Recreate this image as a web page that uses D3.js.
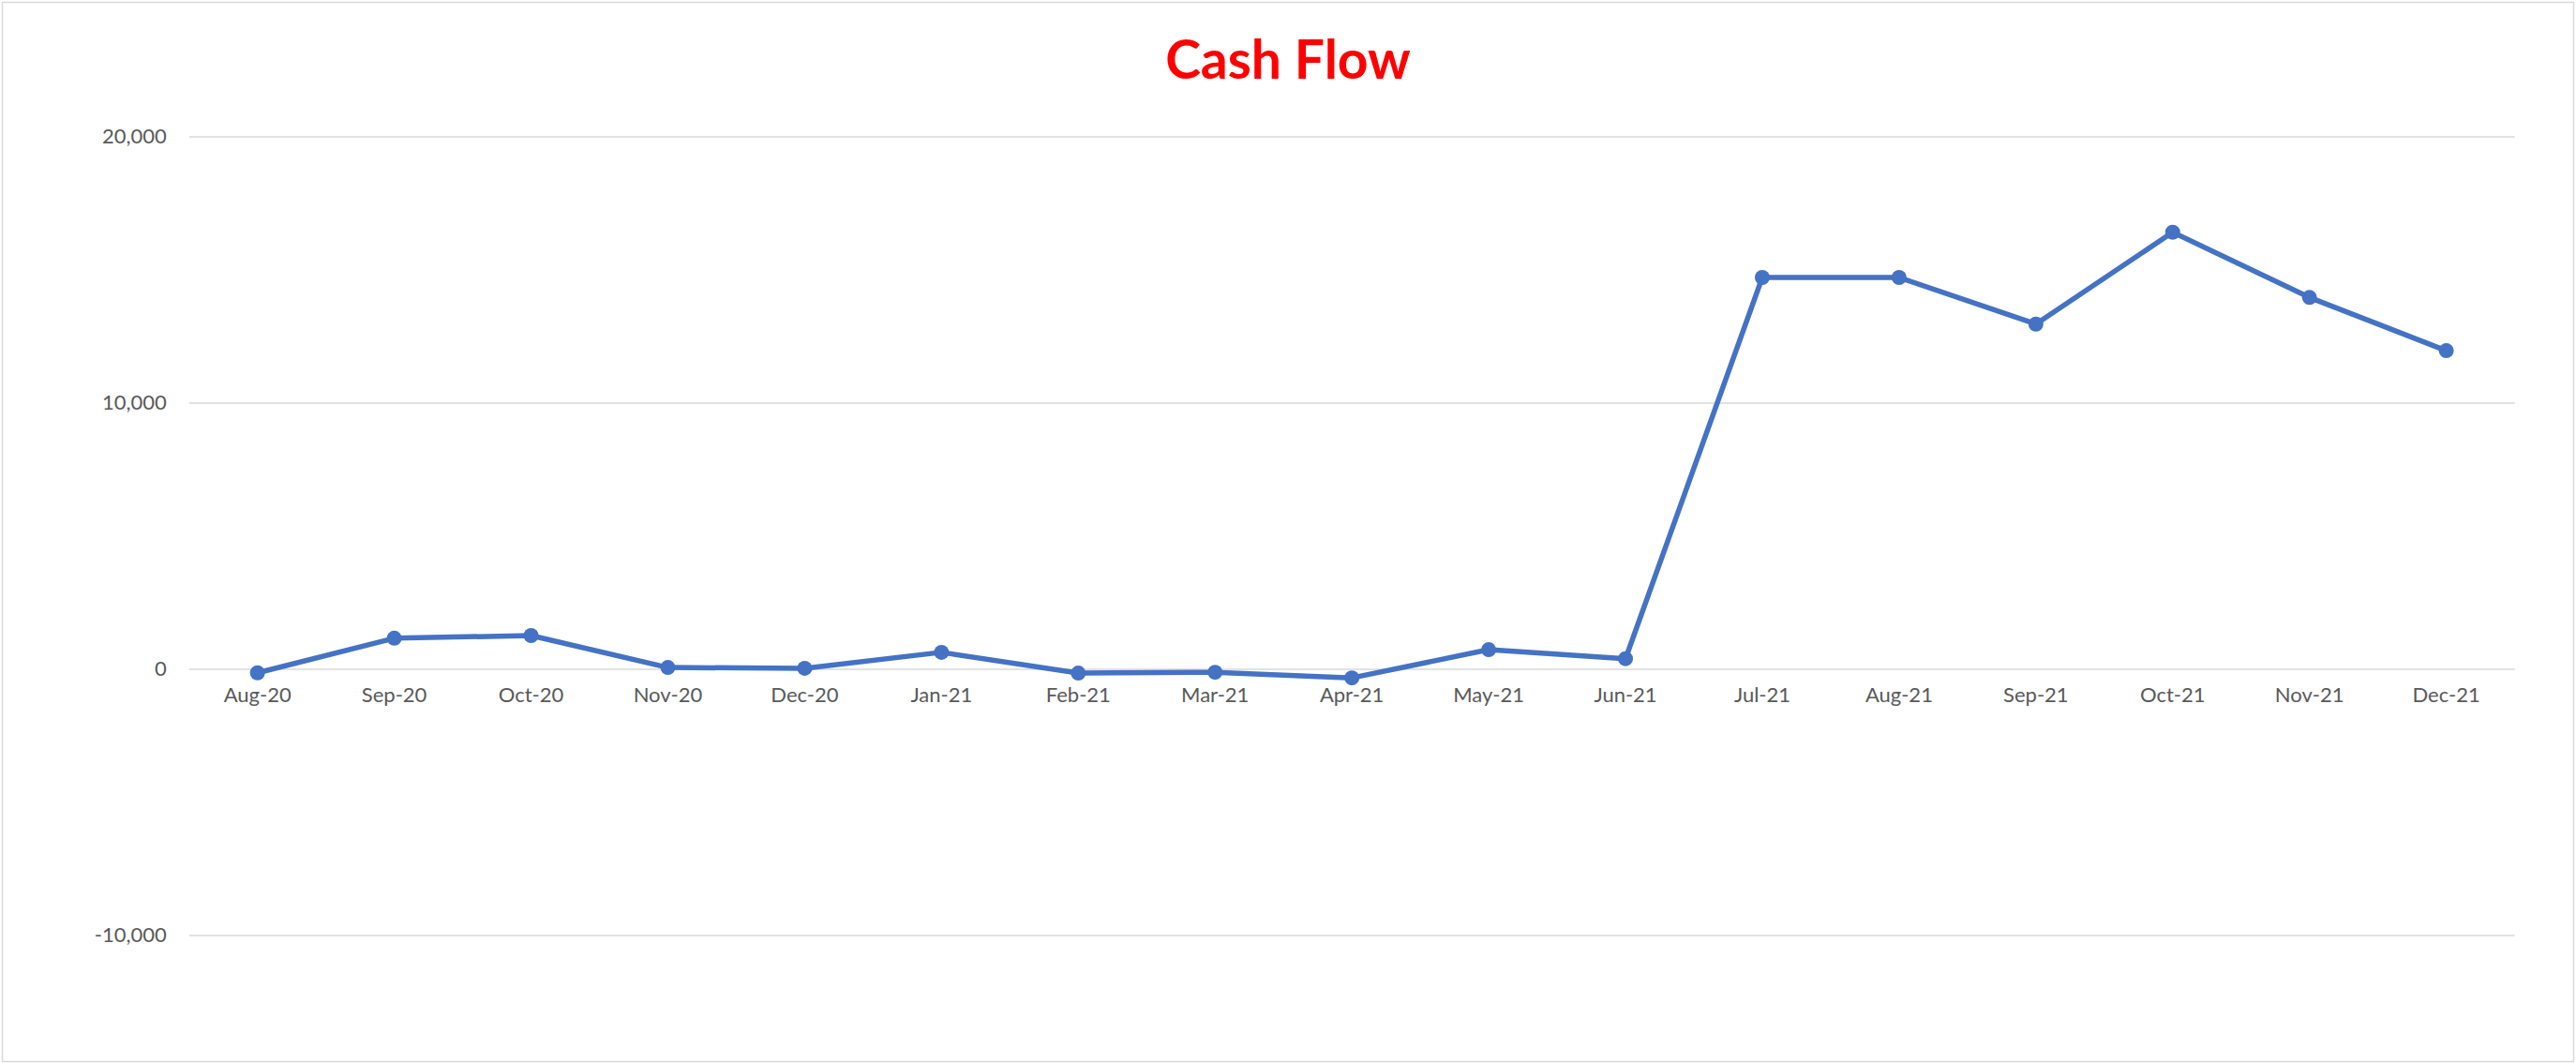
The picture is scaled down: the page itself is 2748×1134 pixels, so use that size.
<!DOCTYPE html>
<html>
<head>
<meta charset="utf-8">
<script src="https://cdn.jsdelivr.net/npm/d3@7"></script>
<style>
  html, body { margin: 0; padding: 0; background: #fff; }
  svg { display: block; }
</style>
</head>
<body>
<script>
// ---- Data ----
const categories = ["Aug-20","Sep-20","Oct-20","Nov-20","Dec-20","Jan-21","Feb-21","Mar-21","Apr-21","May-21","Jun-21","Jul-21","Aug-21","Sep-21","Oct-21","Nov-21","Dec-21"];
const cashFlow = [-150, 1150, 1250, 50, 20, 620, -160, -130, -340, 720, 380, 14700, 14700, 12950, 16400, 13950, 11950];
const yTicks = [-10000, 0, 10000, 20000];
const titleText = "Cash Flow";

// ---- Layout ----
const W = 2748, H = 1134;
const plotLeft = 201.7, plotRight = 2682.6;
const yTop = 145.5, yBottom = 997.5;

const svg = d3.select("body").append("svg")
  .attr("width", W).attr("height", H);

// chart border
svg.append("rect")
  .attr("x", 2.5).attr("y", 2.5)
  .attr("width", W - 5).attr("height", H - 4)
  .attr("fill", "#fff")
  .attr("stroke", "#d9d9d9").attr("stroke-width", 1.5);

const x = d3.scaleBand().domain(categories).range([plotLeft, plotRight]).padding(0);
const y = d3.scaleLinear().domain([-10000, 20000]).range([yBottom, yTop]);

const fmt = d3.formatLocale({decimal: ".", thousands: ",", grouping: [3], currency: ["", ""], minus: "-"}).format(",");

// gridlines + y labels
const yAxis = d3.axisLeft(y).tickValues(yTicks)
  .tickSize(-(plotRight - plotLeft))
  .tickPadding(24)
  .tickFormat(fmt);
const gy = svg.append("g").attr("transform", `translate(${plotLeft},0)`).call(yAxis);
gy.select(".domain").remove();
gy.selectAll(".tick line").attr("stroke", "#d9d9d9").attr("stroke-width", 1.5);
gy.selectAll(".tick text")
  .attr("fill", "#595959")
  .style("font-family", "Lato, 'Open Sans', sans-serif")
  .style("font-size", "22px");

// x axis labels at y=0
const xAxis = d3.axisBottom(x).tickSize(0).tickPadding(20);
const gx = svg.append("g").attr("transform", `translate(0,${y(0)})`).call(xAxis);
gx.select(".domain").remove();
gx.selectAll(".tick text")
  .attr("fill", "#595959")
  .style("font-family", "Lato, 'Open Sans', sans-serif")
  .style("font-size", "22px");

// line
const cx = (d, i) => x(categories[i]) + x.bandwidth() / 2;
const line = d3.line().x((d, i) => cx(d, i)).y(d => y(d));
svg.append("path")
  .datum(cashFlow)
  .attr("d", line)
  .attr("fill", "none")
  .attr("stroke", "#4472C4")
  .attr("stroke-width", 5.5)
  .attr("stroke-linejoin", "round");

svg.append("g").selectAll("circle")
  .data(cashFlow)
  .join("circle")
  .attr("cx", (d, i) => cx(d, i))
  .attr("cy", d => y(d))
  .attr("r", 8)
  .attr("fill", "#4472C4");

// title
svg.append("text")
  .attr("x", W / 2)
  .attr("y", 84)
  .attr("text-anchor", "middle")
  .attr("fill", "#ff0000")
  .style("font-family", "Lato, 'Open Sans', sans-serif")
  .style("font-weight", "bold")
  .style("font-size", "57px")
  .text(titleText);
</script>
</body>
</html>
